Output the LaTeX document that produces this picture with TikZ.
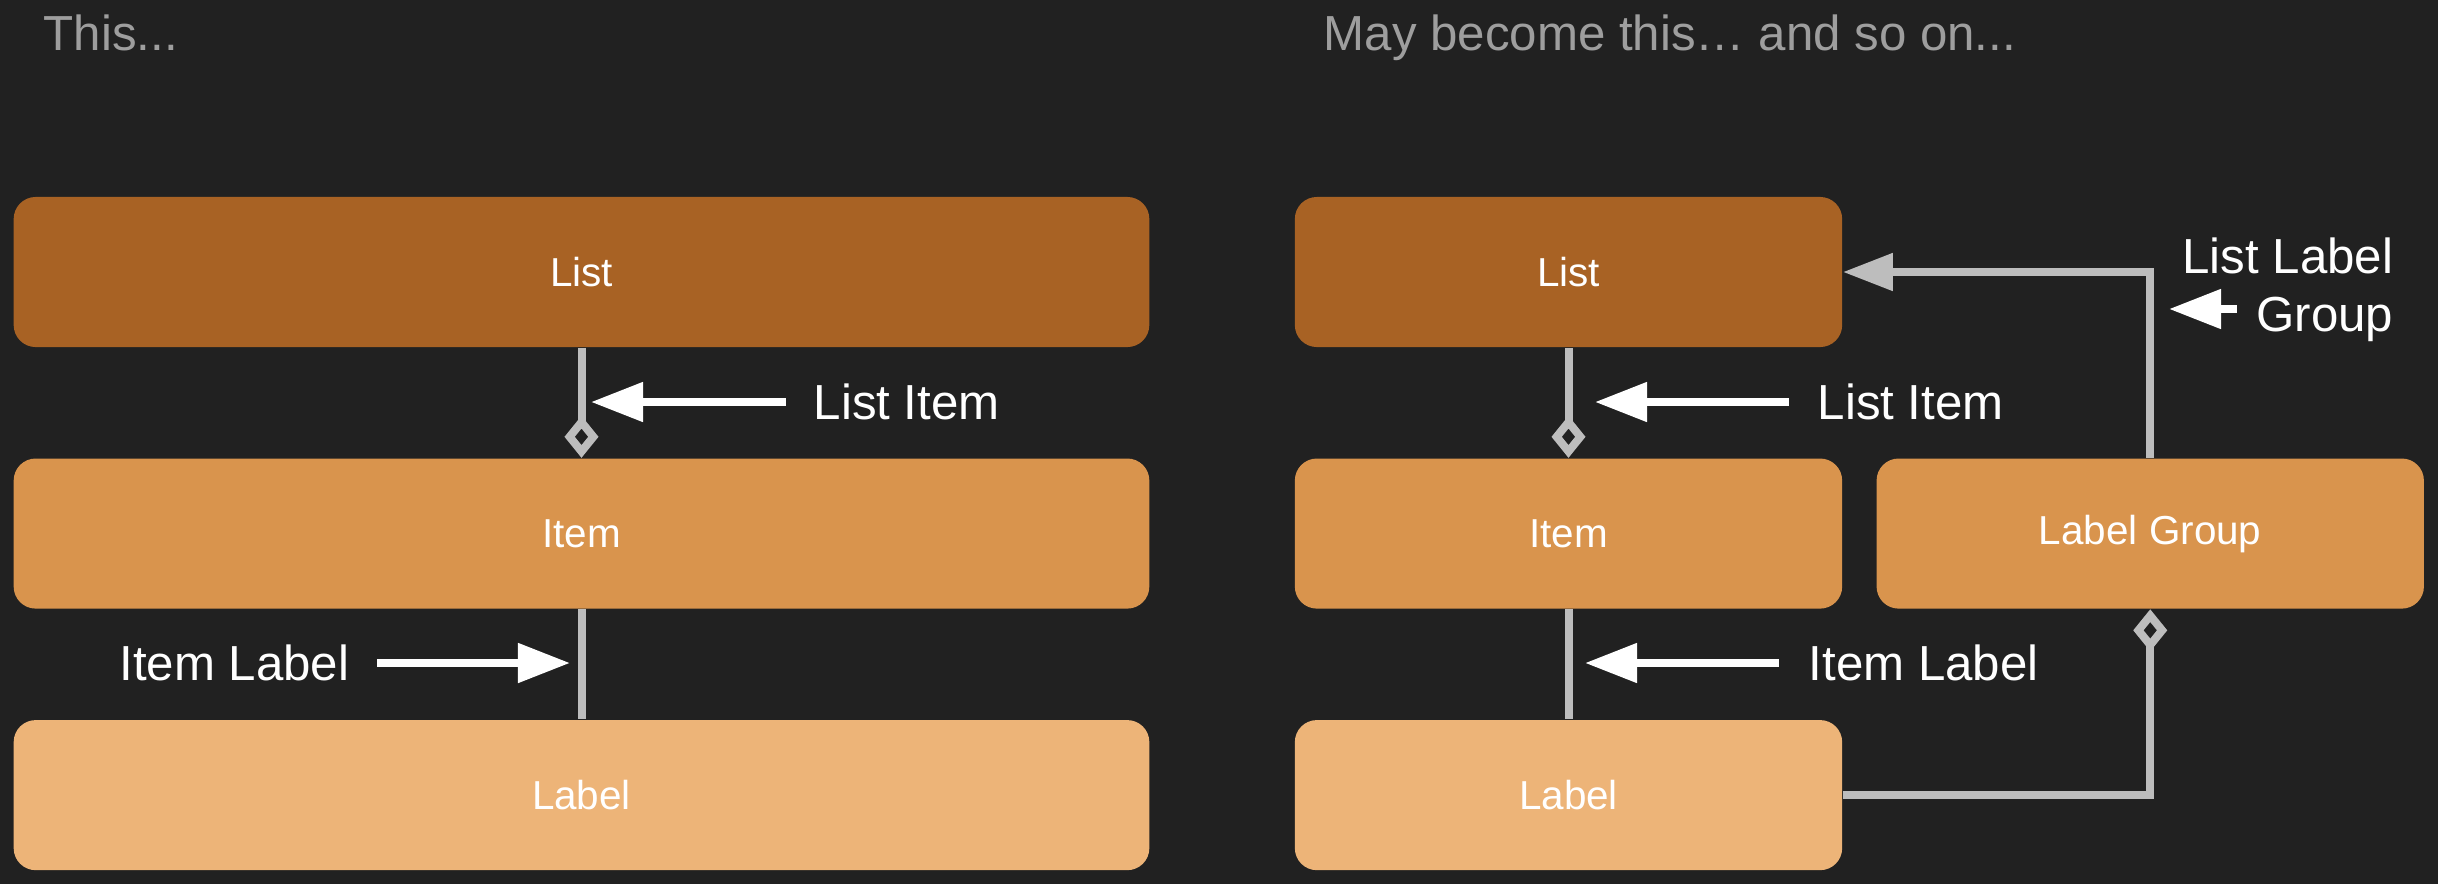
\documentclass[tikz,border=0pt]{standalone}
\usepackage{fontspec}
\setmainfont{Liberation Sans}
\usepackage{tikz}
\usetikzlibrary{
        arrows.meta,
        positioning,
        shapes
    }
\definecolor{bg}{HTML}{212121}
\definecolor{listc}{HTML}{A86224}
\definecolor{itemc}{HTML}{D9944D}
\definecolor{labelc}{HTML}{EDB478}
\definecolor{wire}{HTML}{BDBDBD}
\definecolor{captionc}{HTML}{9E9E9E}
\tikzset{x=0.01cm,y=-0.01cm,node distance=1.1cm}
\tikzset{
    box/.style={rectangle,rounded corners=0.22cm,minimum height=1.5cm,inner sep=0pt,
        text=white,font=\fontsize{11.5}{13}\selectfont},
    widebox/.style={box,minimum width=11.35cm},
    narrowbox/.style={box,minimum width=5.47cm},
    note/.style={text=white,inner sep=0pt,font=\fontsize{14}{16.5}\selectfont},
    caption/.style={text=captionc,inner sep=0pt,font=\fontsize{14}{16.5}\selectfont},
    link/.style={draw=wire,line width=0.08cm},
    owns/.style={link,-{Diamond[open,length=0.42cm,width=0.34cm]}},
    refers/.style={link,-{Triangle[length=0.5cm,width=0.36cm]}},
    pointer/.style={draw=white,line width=0.08cm,-{Triangle[length=0.52cm,width=0.38cm]}}
}

\begin{document}
\begin{tikzpicture}[]
\useasboundingbox (0,0) rectangle (2438,884);
\fill[bg] (0,0) rectangle (2438,884);
    % before
			\node[caption,anchor=base west] (this) at (43,50) {This...};
			\node[widebox,fill=listc] (list) at (581.5,272) {List};
			\node[widebox,fill=itemc] (item) [below=of list] {Item};
			\node[widebox,fill=labelc] (label) [below=of item] {Label};
			\node[note,anchor=west] (listitem) at (813,402) {List Item};
			\node[note,anchor=east] (itemlabel) at (350,663) {Item Label};
			\coordinate (listitemtip) at (591,402);
			\coordinate (itemlabeltip) at (570,663);
		\draw[owns] (list) -- (item);
		\draw[link] (item) -- (label);
		\draw[pointer,shorten <=0.27cm] (listitem.west) -- (listitemtip);
		\draw[pointer,shorten <=0.27cm] (itemlabel.east) -- (itemlabeltip);
    % after
			\node[caption,anchor=base west] (maybe) at (1323,50) {May become this… and so on...};
			\node[narrowbox,fill=listc] (rlist) at (1568.5,272) {List};
			\node[narrowbox,fill=itemc] (ritem) [below=of rlist] {Item};
			\node[narrowbox,fill=labelc] (rlabel) [below=of ritem] {Label};
			\node[narrowbox,fill=itemc] (group) [right=0.33cm of ritem] {Label Group};
			\node[note,anchor=west] (rlistitem) at (1817,402) {List Item};
			\node[note,anchor=west] (ritemlabel) at (1808,663) {Item Label};
			\node[note,anchor=base east] (groupnote) at (2394,273) {List Label};
			\node[note,anchor=base east] (groupnotex) at (2394,331) {Group};
			\coordinate (rlistitemtip) at (1595,402);
			\coordinate (ritemlabeltip) at (1585,663);
			\coordinate (grouptip) at (2169,309);
		\draw[owns] (rlist) -- (ritem);
		\draw[link] (ritem) -- (rlabel);
		\draw[owns] (rlabel.east) -| (group.south);
		\draw[refers] (group.north) |- (rlist.east);
		\draw[pointer,shorten <=0.28cm] (rlistitem.west) -- (rlistitemtip);
		\draw[pointer,shorten <=0.29cm] (ritemlabel.west) -- (ritemlabeltip);
		\draw[pointer,shorten <=0.19cm] (groupnotex.west |- grouptip) -- (grouptip);
\end{tikzpicture}
\end{document}
